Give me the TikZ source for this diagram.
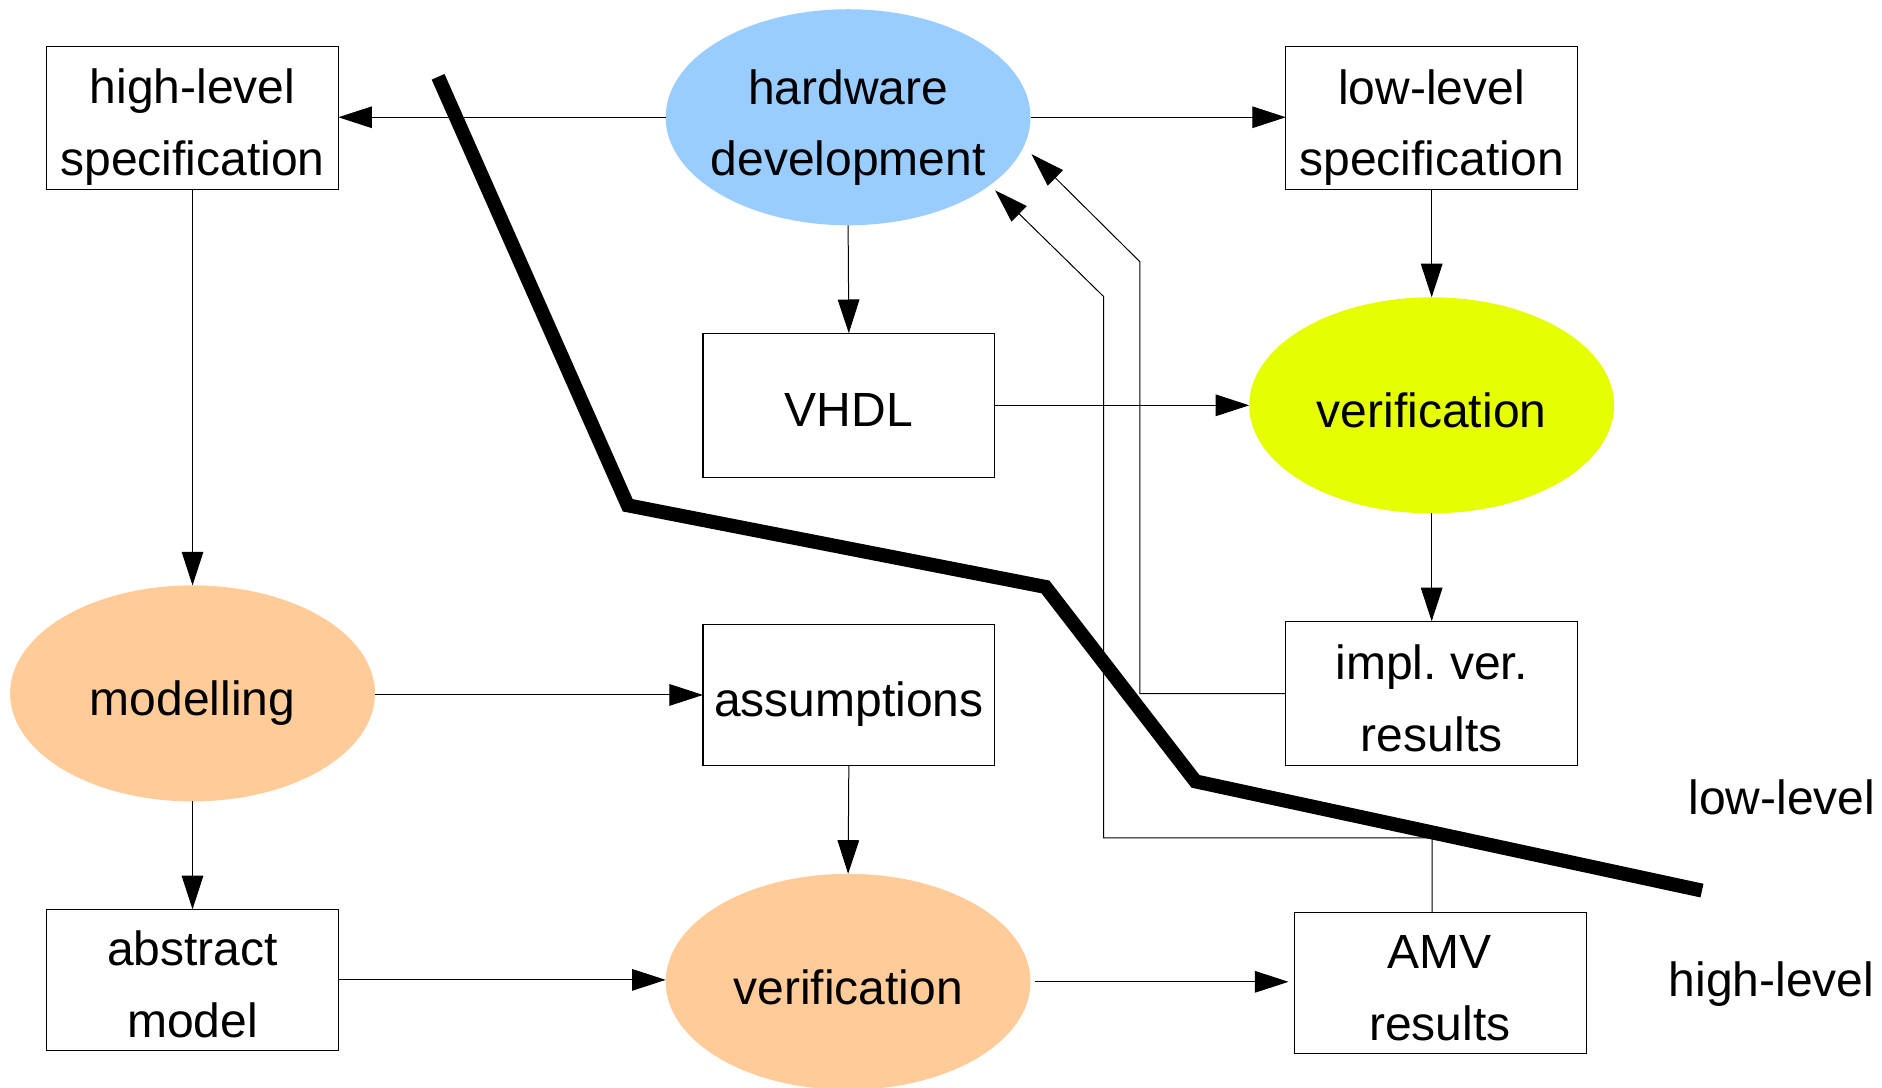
\documentclass[tikz,border=0pt]{standalone}
\usepackage{fontspec}
\setmainfont{Liberation Sans}
\usetikzlibrary{arrows.meta,shapes.geometric,calc}
\definecolor{hwblue}{HTML}{99CCFF}
\definecolor{veryellow}{HTML}{E6FF00}
\definecolor{modorange}{HTML}{FFCC99}
\frenchspacing
\begin{document}
\begin{tikzpicture}[x=0.6pt,y=-0.6pt,
  box/.style={draw, line width=0.6pt, minimum width=145.8pt, inner sep=0pt, outer sep=0pt},
  ell/.style={ellipse, draw=none, minimum width=182.4pt, minimum height=108pt, inner sep=0pt, outer sep=0pt},
  lbl/.style={font=\fontsize{24}{35.7}\selectfont, align=center, inner sep=0pt},
  conn/.style={line width=0.5pt, -{Triangle[length=16.8pt,width=10.8pt]}},
  divider/.style={line width=7pt, line join=miter}]
\useasboundingbox (0,0) rectangle (1568,906);
% shapes
\node[ell, fill=hwblue] (hw) at (706.6,97.7) {};
\node[ell, fill=veryellow] (ver1) at (1192.8,337.7) {};
\node[ell, fill=modorange] (mod) at (160.4,577.7) {};
\node[ell, fill=modorange] (ver2) at (706.6,818) {};
\node[box, minimum height=71.4pt] (hls) at (160.4,98.2) {};
\node[box, minimum height=71.4pt] (lls) at (1192.8,98.2) {};
\node[box, minimum height=72.2pt] (vhdl) at (707.2,337.7) {};
\node[box, minimum height=72.2pt] (impl) at (1192.8,577.8) {};
\node[box, minimum height=70.8pt] (asm) at (707.2,579) {};
\node[box, minimum height=70.6pt] (abs) at (160.4,816.4) {};
\node[box, minimum height=70.6pt] (amv) at (1200,819.2) {};
% texts
\node[lbl] (hwT) at (706.6,106.4) {hardware\\development};
\node[lbl] (ver1T) at (1192.8,342) {verification};
\node[lbl] (modT) at (160.4,586) {modelling};
\node[lbl] (ver2T) at (706.6,823) {verification};
\node[lbl] (hlsT) at (160.4,106) {high-level\\specification};
\node[lbl] (llsT) at (1192.8,106.2) {low-level\\specification};
\node[lbl] (vhdlT) at (707.2,341.7) {VHDL};
\node[lbl] (implT) at (1192.8,581.7) {impl. ver.\\results};
\node[lbl] (asmT) at (707.2,587) {assumptions};
\node[lbl] (absT) at (160.4,820) {abstract\\model};
\node[lbl] (amvT) at (1199.7,823.4) {AMV\\results};
\node[lbl] (lowT) at (1484.5,664) {low-level};
\node[lbl] (highT) at (1476,820) {high-level};
% connectors
\draw[conn] (hw.west) -- (hw.west -| hls.east);
\draw[conn] (hw.east) -- (hw.east -| lls.west);
\draw[conn] (hw.south) -- (vhdl.north);
\draw[conn] (lls.south) -- (ver1.north);
\draw[conn] (vhdl.east) -- (ver1.west);
\draw[conn] (ver1.south) -- (impl.north);
\draw[conn] (hls.south) -- (mod.north);
\draw[conn] (mod.east |- asm.west) -- (asm.west);
\draw[conn] (mod.south) -- (abs.north);
\draw[conn] (asm.south) -- (ver2.north);
\draw[conn] (abs.east) -- (abs.east -| ver2.west);
\draw[conn, shorten <=2.4pt, shorten >=3pt] (ver2.east) -- (ver2.east -| amv.west);
% feedback connectors
\coordinate (fb1a) at (949.6,218);
\coordinate (fb1tip) at (859.4,128.5);
\coordinate (fb2a) at (919.4,247);
\coordinate (fb2tip) at (829.1,158.6);
\coordinate (fb2s) at ($(amv.north)+(-6.8,0)$);
\draw[conn] (impl.west) -| (fb1a) -- (fb1tip);
\draw[conn] (fb2s) -- ++(0,-62.3) -| (fb2a) -- (fb2tip);
% divider line
\draw[divider] (365,64) -- (523,421) -- (871,489) -- (996,651) -- (1418,742);
\end{tikzpicture}
\end{document}
